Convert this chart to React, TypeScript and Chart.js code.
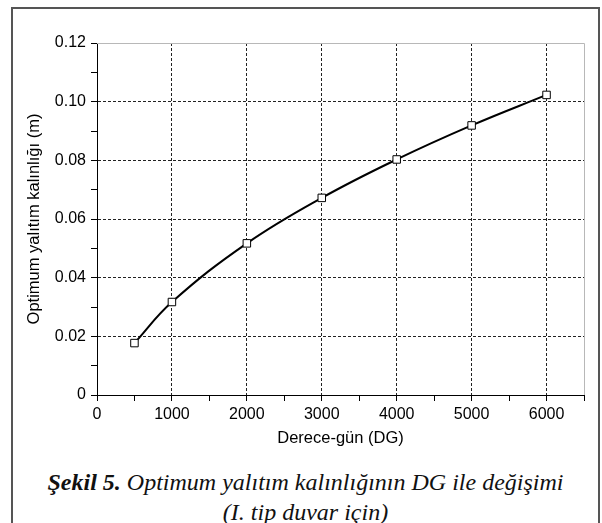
import React, { useEffect, useRef } from "react";
import { Chart, registerables } from "chart.js";

Chart.register(...registerables);

const degreeDays = [500, 1000, 2000, 3000, 4000, 5000, 6000];
const thickness = [0.0177, 0.0317, 0.0517, 0.0672, 0.0803, 0.0919, 0.1023];
const xTitle = "Derece-gün (DG)";
const yTitle = "Optimum yalıtım kalınlığı (m)";
const captionBold = "Şekil 5.";
const captionRest = " Optimum yalıtım kalınlığının DG ile değişimi";
const captionLine2 = "(I. tip duvar için)";

const FONT = "'Liberation Sans', Arial, sans-serif";

const frameLines = {
  id: "frameLines",
  beforeDatasetsDraw(chart: any) {
    const { ctx, chartArea } = chart;
    ctx.save();
    ctx.strokeStyle = "#b8b8b8";
    ctx.lineWidth = 1;
    ctx.beginPath();
    ctx.moveTo(chartArea.left, chartArea.top + 0.5);
    ctx.lineTo(chartArea.right + 0.5, chartArea.top + 0.5);
    ctx.lineTo(chartArea.right + 0.5, chartArea.bottom);
    ctx.stroke();
    ctx.restore();
  },
};

export default function App() {
  const ref = useRef<HTMLCanvasElement>(null);
  useEffect(() => {
    if (!ref.current) return;
    const chart = new Chart(ref.current, {
      type: "line",
      data: {
        datasets: [
          {
            data: degreeDays.map((x, i) => ({ x, y: thickness[i] })),
            borderColor: "#000",
            borderWidth: 2,
            tension: 0.4,
            pointStyle: "rect",
            pointRadius: 5.3,
            pointBackgroundColor: "#fff",
            pointBorderColor: "#000",
            pointBorderWidth: 1,
          },
        ],
      },
      options: {
        animation: false,
        responsive: false,
        layout: { padding: { left: 0, top: 43, right: 18, bottom: 0 } },
        plugins: { legend: { display: false }, tooltip: { enabled: false } },
        scales: {
          x: {
            type: "linear",
            min: 0,
            max: 6500,
            afterFit: (s: any) => {
              s.height = 57;
            },
            ticks: {
              stepSize: 500,
              autoSkip: false,
              maxRotation: 0,
              padding: 4,
              color: "#000",
              font: { family: FONT, size: 16 },
              callback: (v: any) => (Number(v) % 1000 === 0 ? String(v) : ""),
            },
            grid: {
              color: (c: any) => {
                const v = c.tick ? c.tick.value : 0;
                return v % 1000 === 0 && v > 0 && v < 6500 ? "#222" : "rgba(0,0,0,0)";
              },
              tickColor: "#000",
              tickLength: 6,
              lineWidth: 1,
            },
            border: { display: true, color: "#000", width: 1, dash: [3, 2] },
            title: {
              display: true,
              text: xTitle,
              color: "#000",
              font: { family: FONT, size: 16.5 },
              padding: { top: 0, bottom: 4 },
            },
          },
          y: {
            type: "linear",
            min: 0,
            max: 0.12,
            afterFit: (s: any) => {
              s.width = 97;
            },
            ticks: {
              stepSize: 0.01,
              autoSkip: false,
              padding: 5,
              color: "#000",
              font: { family: FONT, size: 16 },
              callback: (v: any) => {
                const k = Math.round(Number(v) * 100);
                if (k % 2 !== 0) return "";
                return k === 0 ? "0" : (k / 100).toFixed(2);
              },
            },
            grid: {
              color: (c: any) => {
                const k = c.tick ? Math.round(c.tick.value * 100) : 0;
                return k % 2 === 0 && k > 0 && k < 12 ? "#222" : "rgba(0,0,0,0)";
              },
              tickColor: "#000",
              tickLength: 6,
              lineWidth: 1,
            },
            border: { display: true, color: "#000", width: 1, dash: [3, 2] },
            title: {
              display: true,
              text: yTitle,
              color: "#000",
              font: { family: FONT, size: 16.5 },
              padding: { top: 25, bottom: 0 },
            },
          },
        },
      },
      plugins: [frameLines],
    } as any);
    return () => chart.destroy();
  }, []);

  return (
    <div
      style={{
        position: "absolute",
        left: 0,
        top: 0,
        width: 602,
        height: 523,
        overflow: "hidden",
        background: "#fff",
      }}
    >
      <div
        style={{
          position: "absolute",
          left: 11,
          top: 7,
          width: 589,
          height: 600,
          boxSizing: "border-box",
          border: "2px solid #555",
        }}
      />
      <canvas
        ref={ref}
        width={602}
        height={452}
        style={{ position: "absolute", left: 0, top: 0, width: 602, height: 452 }}
      />
      <div
        style={{
          position: "absolute",
          left: 11,
          top: 467,
          width: 589,
          textAlign: "center",
          fontFamily: "'Liberation Serif', 'Times New Roman', serif",
          fontStyle: "italic",
          fontSize: 24,
          lineHeight: "30px",
          color: "#111",
          whiteSpace: "nowrap",
        }}
      >
        <div>
          <b>{captionBold}</b>
          {captionRest}
        </div>
        <div>{captionLine2}</div>
      </div>
    </div>
  );
}
